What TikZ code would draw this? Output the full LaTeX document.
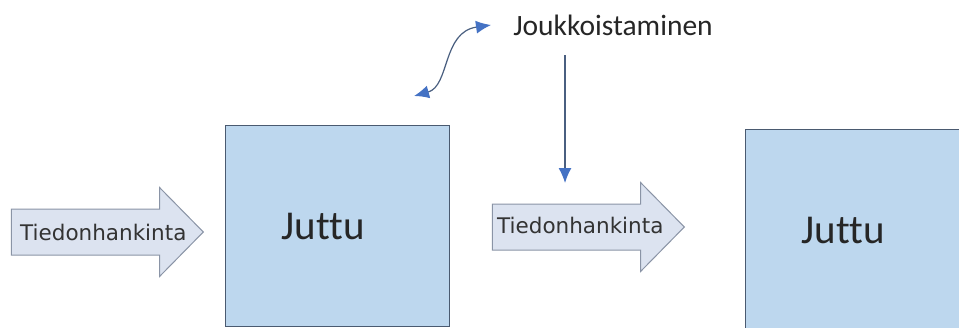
\documentclass[tikz,border=0pt]{standalone}
\usepackage{fontspec}
\setmainfont{Carlito}[Ligatures=NoCommon]
\newfontfamily\arrowfont{DejaVu Sans}
\usepackage{tikz}
\usetikzlibrary{positioning, arrows.meta, shapes.arrows}
\definecolor{BoxBlue}{HTML}{BDD7EE}
\definecolor{BoxEdge}{HTML}{4A5A70}
\definecolor{FlowFill}{HTML}{DCE3F0}
\definecolor{FlowEdge}{HTML}{8A94A6}
\definecolor{LinkBlue}{HTML}{4472C4}
\definecolor{LinkLine}{HTML}{4A5F80}

\begin{document}
\begin{tikzpicture}[
      x=1pt, y=-1pt,
      thing/.style={draw=BoxEdge, fill=BoxBlue, line width=1pt, minimum width=224pt, minimum height=201pt,
        text width=112pt, inner xsep=56pt, align=left, font=\fontsize{41}{41}\selectfont, text=black!85},
      flow/.style={single arrow, draw=FlowEdge, fill=FlowFill, line width=1pt, inner sep=0pt,
        text height=45pt, text depth=0pt, minimum height=192pt,
        single arrow head extend=21.5pt, single arrow tip angle=91},
      flowtext/.style={inner sep=0pt, anchor=base west, font=\arrowfont\fontsize{21.5}{21.5}\selectfont, text=black!80},
      link/.style={LinkLine, line width=1.2pt, {Latex[length=15pt,width=13pt,color=LinkBlue]}-{Latex[length=15pt,width=13pt,color=LinkBlue]}},
      drop/.style={LinkLine, line width=1.2pt, -{Latex[length=15pt,width=13pt,color=LinkBlue]}}
  ]
    \useasboundingbox (0,0) rectangle (959,327);
    \node[thing, anchor=north west](juttu1) at (225,125){Juttu};
    \node[thing, anchor=north west](juttu2) at (745,129){Juttu};
    \node[flow, anchor=tip](haku1) at (204,232){};
    \node[flow, anchor=tip](haku2) at (685,227){};
    \node[flowtext](hakuteksti1) at (20,240){Tiedonhankinta};
    \node[flowtext](hakuteksti2) at (497,233){Tiedonhankinta};
    \node[font=\fontsize{29.5}{29.5}\selectfont, text=black!85, inner sep=0pt](joukko) at (613,25){Joukkoistaminen};
    \coordinate(alku) at (565,55);
    \coordinate(kohde) at (565,183);
    \coordinate(vasen) at (414,96);
    \coordinate(oikea) at (491,25);
    \draw[drop](alku)--(kohde);
    \draw[link](vasen) .. controls (450,86) and (442,32) .. (oikea);
  \end{tikzpicture}
\end{document}
